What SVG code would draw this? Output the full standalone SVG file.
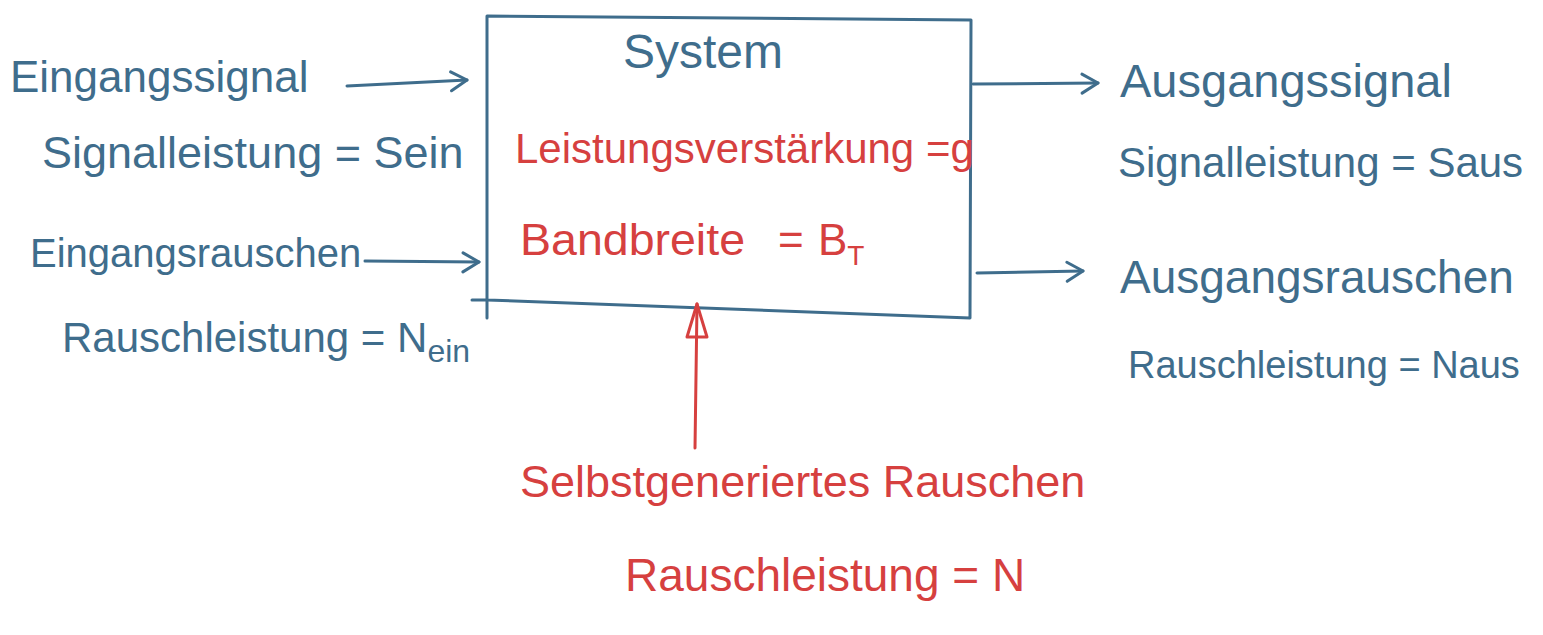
<svg xmlns="http://www.w3.org/2000/svg" width="1543" height="635" viewBox="0 0 1543 635">
<style>
.b{fill:#3f6d8c;font-family:"Liberation Sans",Arial,sans-serif}
.r{fill:#d6403f;font-family:"Liberation Sans",Arial,sans-serif}
.lb{stroke:#3f6d8c;stroke-width:3;fill:none;stroke-linecap:round;stroke-linejoin:round}
.lr{stroke:#d6403f;stroke-width:3;fill:none;stroke-linecap:round;stroke-linejoin:round}
</style>
<defs>
<marker id="ab" markerWidth="26" markerHeight="26" refX="21" refY="12" orient="auto" markerUnits="userSpaceOnUse">
<path d="M5,3 L21,12 L5,22" fill="none" stroke="#3f6d8c" stroke-width="3" stroke-linecap="round" stroke-linejoin="round"/>
</marker>
<marker id="ar" markerWidth="30" markerHeight="44" refX="12" refY="2" orient="0" markerUnits="userSpaceOnUse">
<path d="M12,2 L22,35 L2,35 Z" fill="none" stroke="#d6403f" stroke-width="3" stroke-linejoin="round"/>
</marker>
</defs>
<rect width="1543" height="635" fill="#ffffff"/>
<g id="system">
<path class="lb" d="M487,16 L971,20 L970,318 L487,300 Z"/>
<path class="lb" d="M487,300 L487,318 M472,300 L487,300"/>
<text class="b" x="703" y="68" font-size="48" text-anchor="middle">System</text>
<text class="r" x="515" y="163" font-size="42">Leistungsverstärkung =g</text>
<text class="r" x="520" y="255" font-size="44" textLength="225" lengthAdjust="spacingAndGlyphs">Bandbreite</text>
<text class="r" x="778" y="255" font-size="44">=</text>
<text class="r" x="818" y="255" font-size="44">B<tspan font-size="28" dy="10">T</tspan></text>
</g>
<g id="eingangssignal">
<text class="b" x="10" y="92" font-size="44">Eingangssignal</text>
<text class="b" x="42" y="168" font-size="45">Signalleistung = Sein</text>
</g>
<g id="eingangsrauschen">
<text class="b" x="30" y="267" font-size="40">Eingangsrauschen</text>
<text class="b" x="62" y="352" font-size="42">Rauschleistung = N<tspan font-size="32" dy="10">ein</tspan></text>
</g>
<g id="ausgangssignal">
<text class="b" x="1120" y="97" font-size="47">Ausgangssignal</text>
<text class="b" x="1118" y="177" font-size="42">Signalleistung = Saus</text>
</g>
<g id="ausgangsrauschen">
<text class="b" x="1120" y="293" font-size="46">Ausgangsrauschen</text>
<text class="b" x="1128" y="378" font-size="38">Rauschleistung = Naus</text>
</g>
<g id="selbstrauschen">
<text class="r" x="520" y="497" font-size="45">Selbstgeneriertes Rauschen</text>
<text class="r" x="625" y="591" font-size="46">Rauschleistung = N</text>
</g>
<g id="connectors">
<path class="lb" d="M347,86 L467,80" marker-end="url(#ab)"/>
<path class="lb" d="M365,261 L479,262" marker-end="url(#ab)"/>
<path class="lb" d="M973,84 L1098,83" marker-end="url(#ab)"/>
<path class="lb" d="M977,273 L1083,271" marker-end="url(#ab)"/>
<path class="lr" d="M695,448 L697,304" marker-end="url(#ar)"/>
</g>
</svg>
